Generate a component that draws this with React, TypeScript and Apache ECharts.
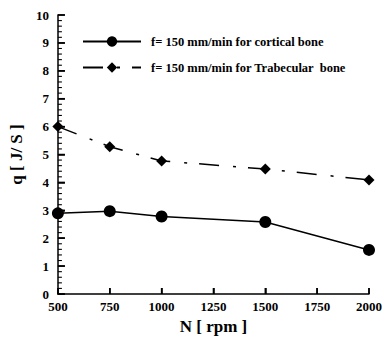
import React, { useEffect, useRef } from "react";
import * as echarts from "echarts";

const rpm = [500, 750, 1000, 1500, 2000];
const cortical = [2.89, 2.97, 2.78, 2.58, 1.58];
const trabecular = [6.0, 5.28, 4.77, 4.48, 4.09];
const seriesNames = [
  "f= 150 mm/min for cortical bone",
  "f= 150 mm/min for Trabecular  bone",
];
const xTicks = [500, 750, 1000, 1250, 1500, 1750, 2000];
const yTicks = [0, 1, 2, 3, 4, 5, 6, 7, 8, 9, 10];
const yMinorSteps = [0.2, 0.4, 0.6, 0.8];

const FONT = "Liberation Serif";

export default function App() {
  const ref = useRef<HTMLDivElement>(null);
  useEffect(() => {
    if (!ref.current) return;
    const chart = echarts.init(ref.current, undefined, { renderer: "svg" });

    const tickData: number[][] = [];
    yTicks.forEach((t) => tickData.push([500, t, 0, 7]));
    yTicks.slice(0, -1).forEach((t) =>
      yMinorSteps.forEach((s) => tickData.push([500, t + s, 0, 4]))
    );
    xTicks.forEach((t) => tickData.push([t, 0, 1, 6]));

    chart.setOption({
      animation: false,
      backgroundColor: "#ffffff",
      grid: { left: 57, right: 18, top: 15, bottom: 51, containLabel: false },
      legend: {
        orient: "vertical",
        left: 77,
        top: 30,
        itemWidth: 58,
        itemHeight: 13,
        itemGap: 13,
        textStyle: {
          fontFamily: FONT,
          fontWeight: "bold",
          fontSize: 12.5,
          color: "#000",
          padding: [0, 0, 0, 5],
        },
        data: seriesNames,
      },
      xAxis: {
        type: "value",
        min: 500,
        max: 2000,
        interval: 250,
        name: "N [ rpm ]",
        nameLocation: "middle",
        nameGap: 24,
        nameTextStyle: { fontFamily: FONT, fontWeight: "bold", fontSize: 17, color: "#000" },
        axisLine: { show: true, lineStyle: { color: "#000", width: 1.5 } },
        axisTick: { show: true, inside: true, length: 6, lineStyle: { color: "#000", width: 1.5 } },
        axisLabel: {
          fontFamily: FONT,
          fontWeight: "bold",
          fontSize: 13,
          color: "#000",
          margin: 6,
          formatter: (v: number) => String(v),
        },
        splitLine: { show: false },
      },
      yAxis: {
        type: "value",
        min: 0,
        max: 10,
        interval: 1,
        name: "q [ J/ S ]",
        nameLocation: "middle",
        nameGap: 30,
        nameTextStyle: { fontFamily: FONT, fontWeight: "bold", fontSize: 17, color: "#000" },
        axisLine: { show: true, lineStyle: { color: "#000", width: 1.5 } },
        axisTick: { show: true, inside: true, length: 7, lineStyle: { color: "#000", width: 1.5 } },
        axisLabel: {
          fontFamily: FONT,
          fontWeight: "bold",
          fontSize: 13,
          color: "#000",
          margin: 9,
          lineHeight: 11,
        },
        splitLine: { show: false },
      },
      series: [
        {
          type: "custom",
          silent: true,
          clip: false,
          data: tickData,
          encode: { x: 0, y: 1 },
          renderItem: (params: any, api: any) => {
            const p = api.coord([api.value(0), api.value(1)]);
            const isX = api.value(2) === 1;
            const len = api.value(3);
            const major = len > 5;
            return {
              type: "line",
              shape: isX
                ? { x1: p[0], y1: p[1], x2: p[0], y2: p[1] - len }
                : { x1: p[0], y1: p[1], x2: p[0] + len, y2: p[1] },
              style: { stroke: "#000", lineWidth: major ? 1.5 : 1.1 },
            };
          },
        },
        {
          name: seriesNames[0],
          type: "line",
          data: rpm.map((x, i) => [x, cortical[i]]),
          symbol: "circle",
          symbolSize: 12,
          itemStyle: { color: "#000" },
          lineStyle: { color: "#000", width: 1.5 },
          z: 3,
        },
        {
          name: seriesNames[1],
          type: "line",
          data: rpm.map((x, i) => [x, trabecular[i]]),
          symbol: "diamond",
          symbolSize: 11,
          itemStyle: { color: "#000" },
          lineStyle: { color: "#000", width: 1.5, type: [20, 14, 3, 12] },
          z: 3,
        },
      ],
    });
    return () => chart.dispose();
  }, []);
  return <div ref={ref} style={{ width: 387, height: 345, position: "absolute", left: 0, top: 0 }} />;
}
